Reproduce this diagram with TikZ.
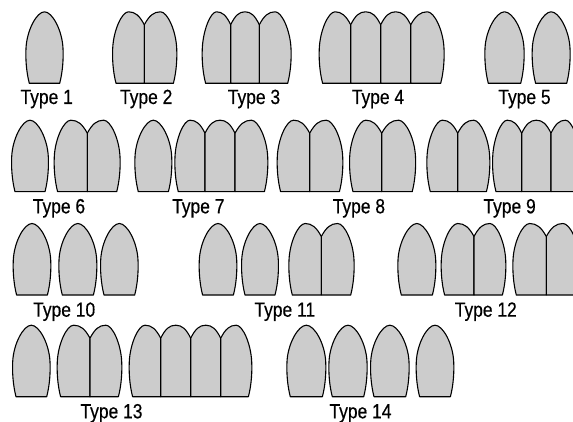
\documentclass[tikz,border=0pt]{standalone}
\usepackage{fontspec}
\setmainfont{Liberation Sans}[FakeStretch=0.85,FakeBold=0.4]
\definecolor{petalgray}{RGB}{204,204,204}
\tikzset{
  petal/.style={fill=petalgray, draw=black, line width=1.1pt, line join=round},
  lbl/.style={anchor=base, inner sep=0pt, font=\fontsize{20.5}{24}\selectfont}
}
% #1 left bound, #2 right bound, #3 bottom y, #4 left side (o=outer, d=divider), #5 right side
\newcommand{\petallobe}[5]{%
  \pgfmathsetmacro\La{#1}\pgfmathsetmacro\Lb{#2}\pgfmathsetmacro\LB{#3}%
  \pgfmathsetmacro\Lm{(\La+\Lb)/2}\pgfmathsetmacro\Lh{(\Lb-\La)/2}%
  \pgfmathsetmacro\LT{\LB-71.5}\pgfmathsetmacro\LN{\LT+13}%
  \if#4o%
    \pgfmathsetmacro\Pax{\La+3.3}\pgfmathsetmacro\Pay{\LB}%
    \pgfmathsetmacro\Pbx{\La+0.2}\pgfmathsetmacro\Pby{\LB-12}%
    \pgfmathsetmacro\Pcx{\La-0.5}\pgfmathsetmacro\Pcy{\LB-25}%
    \pgfmathsetmacro\Pdx{\La}\pgfmathsetmacro\Pdy{\LB-35}%
    \pgfmathsetmacro\Pex{\La+0.8}\pgfmathsetmacro\Pey{\LB-53}%
    \pgfmathsetmacro\Pfx{\Lm-0.42*\Lh}%
  \else%
    \pgfmathsetmacro\Pax{\La}\pgfmathsetmacro\Pay{\LB}%
    \pgfmathsetmacro\Pbx{\La}\pgfmathsetmacro\Pby{\LB-10}%
    \pgfmathsetmacro\Pcx{\La}\pgfmathsetmacro\Pcy{\LN+5}%
    \pgfmathsetmacro\Pdx{\La}\pgfmathsetmacro\Pdy{\LN}%
    \pgfmathsetmacro\Pex{\La+0.3*\Lh}\pgfmathsetmacro\Pey{\LT+0.3*(\LN-\LT)}%
    \pgfmathsetmacro\Pfx{\Lm-0.42*\Lh}%
  \fi%
  \if#5o%
    \pgfmathsetmacro\Qax{\Lb-3.3}\pgfmathsetmacro\Qay{\LB}%
    \pgfmathsetmacro\Qbx{\Lb-0.2}\pgfmathsetmacro\Qby{\LB-12}%
    \pgfmathsetmacro\Qcx{\Lb+0.5}\pgfmathsetmacro\Qcy{\LB-25}%
    \pgfmathsetmacro\Qdx{\Lb}\pgfmathsetmacro\Qdy{\LB-35}%
    \pgfmathsetmacro\Qex{\Lb-0.8}\pgfmathsetmacro\Qey{\LB-53}%
    \pgfmathsetmacro\Qfx{\Lm+0.42*\Lh}%
  \else%
    \pgfmathsetmacro\Qax{\Lb}\pgfmathsetmacro\Qay{\LB}%
    \pgfmathsetmacro\Qbx{\Lb}\pgfmathsetmacro\Qby{\LB-10}%
    \pgfmathsetmacro\Qcx{\Lb}\pgfmathsetmacro\Qcy{\LN+5}%
    \pgfmathsetmacro\Qdx{\Lb}\pgfmathsetmacro\Qdy{\LN}%
    \pgfmathsetmacro\Qex{\Lb-0.3*\Lh}\pgfmathsetmacro\Qey{\LT+0.3*(\LN-\LT)}%
    \pgfmathsetmacro\Qfx{\Lm+0.42*\Lh}%
  \fi%
  \filldraw[petal] (\Pax,\Pay) .. controls (\Pbx,\Pby) and (\Pcx,\Pcy) .. (\Pdx,\Pdy)
    .. controls (\Pex,\Pey) and (\Pfx,\LT) .. (\Lm,\LT)
    .. controls (\Qfx,\LT) and (\Qex,\Qey) .. (\Qdx,\Qdy)
    .. controls (\Qcx,\Qcy) and (\Qbx,\Qby) .. (\Qax,\Qay) -- cycle;%
}
\begin{document}
\begin{tikzpicture}[x=1pt,y=-1pt]
\useasboundingbox (0,0) rectangle (573,422);
\fill[white] (0,0) rectangle (573,422);
\clip (0,0) rectangle (573,422);
% ---------- Row 1 ----------
\def\B{83.3}
\petallobe{26}{63}{\B}{o}{o}
\petallobe{112.7}{144.3}{\B}{o}{d}\petallobe{144.3}{176.7}{\B}{d}{o}
\petallobe{202.3}{230.7}{\B}{o}{d}\petallobe{230.7}{259.3}{\B}{d}{d}\petallobe{259.3}{291}{\B}{d}{o}
\petallobe{319.3}{350.7}{\B}{o}{d}\petallobe{350.7}{380.7}{\B}{d}{d}\petallobe{380.7}{410.7}{\B}{d}{d}\petallobe{410.7}{444}{\B}{d}{o}
\petallobe{485}{524}{\B}{o}{o}
\petallobe{532.3}{570}{\B}{o}{o}
\node[lbl] (t1) at (46.7,104) {Type 1};
\node[lbl] (t2) at (146.2,104) {Type 2};
\node[lbl] (t3) at (254,104) {Type 3};
\node[lbl] (t4) at (378,104) {Type 4};
\node[lbl] (t5) at (524.5,104) {Type 5};
% ---------- Row 2 ----------
\def\B{191.7}
\petallobe{11.7}{48.3}{\B}{o}{o}
\petallobe{54.3}{87.3}{\B}{o}{d}\petallobe{87.3}{120}{\B}{d}{o}
\petallobe{135}{171.7}{\B}{o}{o}
\petallobe{175}{205}{\B}{o}{d}\petallobe{205}{235}{\B}{d}{d}\petallobe{235}{267.7}{\B}{d}{o}
\petallobe{277.3}{309.7}{\B}{o}{d}\petallobe{309.7}{342.7}{\B}{d}{o}
\petallobe{349.7}{381.7}{\B}{o}{d}\petallobe{381.7}{415.5}{\B}{d}{o}
\petallobe{427}{457.7}{\B}{o}{d}\petallobe{457.7}{489.7}{\B}{d}{o}
\petallobe{492.7}{521.7}{\B}{o}{d}\petallobe{521.7}{551}{\B}{d}{d}\petallobe{551}{580}{\B}{d}{o}
\node[lbl] (t6) at (59,213.3) {Type 6};
\node[lbl] (t7) at (198.3,213.3) {Type 7};
\node[lbl] (t8) at (358.9,213.3) {Type 8};
\node[lbl] (t9) at (509.6,213.3) {Type 9};
% ---------- Row 3 ----------
\def\B{295}
\petallobe{13.3}{50.7}{\B}{o}{o}
\petallobe{59}{96.7}{\B}{o}{o}
\petallobe{100.7}{138}{\B}{o}{o}
\petallobe{199.3}{236.7}{\B}{o}{o}
\petallobe{241.7}{278.3}{\B}{o}{o}
\petallobe{289}{321.3}{\B}{o}{d}\petallobe{321.3}{354}{\B}{d}{o}
\petallobe{398}{435.7}{\B}{o}{o}
\petallobe{441.3}{474}{\B}{o}{d}\petallobe{474}{505.7}{\B}{d}{o}
\petallobe{513}{546.3}{\B}{o}{d}\petallobe{546.3}{579.6}{\B}{d}{o}
\node[lbl] (t10) at (64.2,316.7) {Type 10};
\node[lbl] (t11) at (284.8,316.7) {Type 11};
\node[lbl] (t12) at (485.8,316.7) {Type 12};
% ---------- Row 4 ----------
\def\B{396.7}
\petallobe{12.7}{50}{\B}{o}{o}
\petallobe{57.3}{90}{\B}{o}{d}\petallobe{90}{121.7}{\B}{d}{o}
\petallobe{129.3}{160.7}{\B}{o}{d}\petallobe{160.7}{190.7}{\B}{d}{d}\petallobe{190.7}{220.7}{\B}{d}{d}\petallobe{220.7}{251.7}{\B}{d}{o}
\petallobe{287}{325.7}{\B}{o}{o}
\petallobe{329}{367}{\B}{o}{o}
\petallobe{370.7}{409}{\B}{o}{o}
\petallobe{416.3}{453.7}{\B}{o}{o}
\node[lbl] (t13) at (111.5,418.3) {Type 13};
\node[lbl] (t14) at (360.5,418.3) {Type 14};
\end{tikzpicture}
\end{document}
